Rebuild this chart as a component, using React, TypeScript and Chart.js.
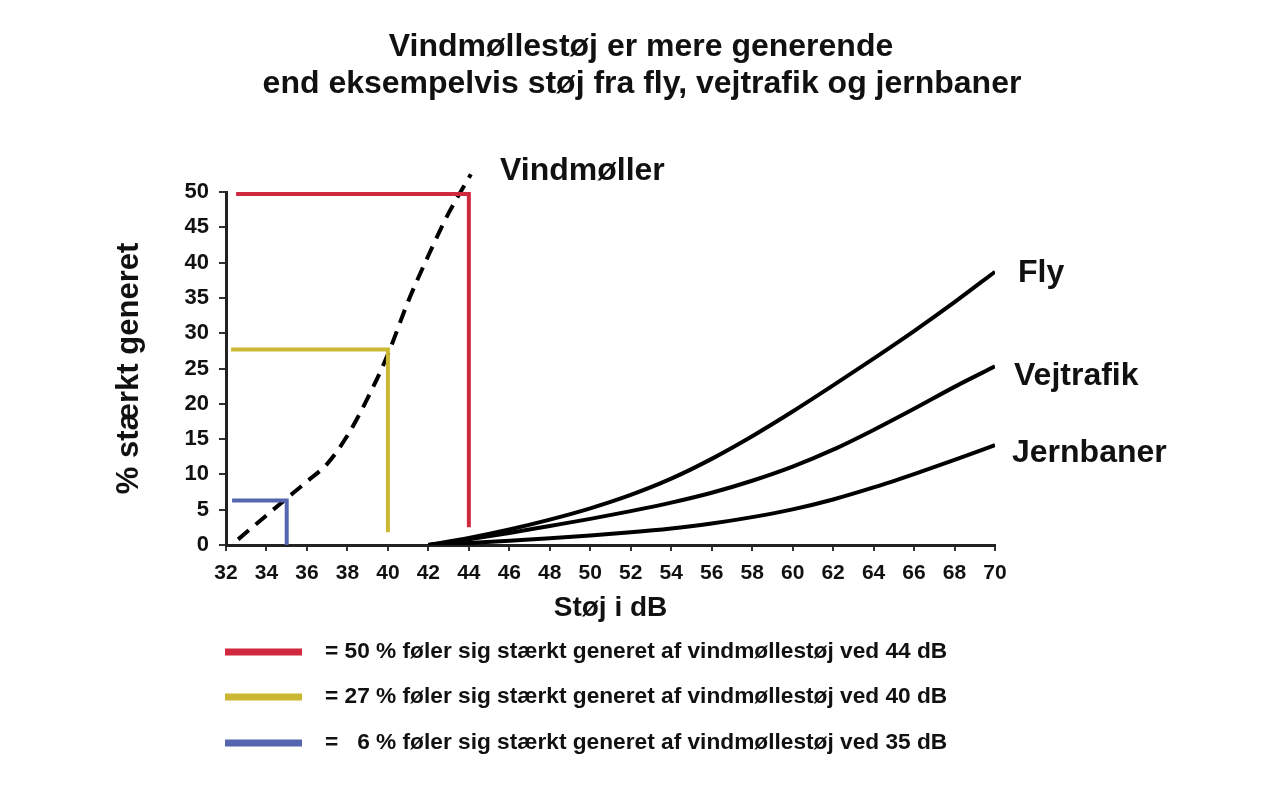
import React, { useEffect, useRef } from "react";
import { Chart, registerables } from "chart.js";

Chart.register(...registerables);

const FONT = "'Liberation Sans', Arial, sans-serif";

const titleLines = [
  "Vindmøllestøj er mere generende",
  "end eksempelvis støj fra fly, vejtrafik og jernbaner",
];
const yTitle = "% stærkt generet";
const xTitle = "Støj i dB";

// Vindmøller (dashed)
const windX = [32.6, 34, 35, 36, 37, 38, 39, 40, 41, 42, 43, 44.1];
const windY = [0.8, 4.2, 6.6, 9, 11.5, 15.5, 20.8, 27, 34.5, 41, 47, 52.5];

const otherX = [42, 44, 46, 48, 50, 52, 54, 56, 58, 60, 62, 64, 66, 68, 70];
const flyY = [0, 1.0, 2.2, 3.6, 5.2, 7.1, 9.4, 12.2, 15.4, 18.9, 22.6, 26.4, 30.3, 34.4, 38.7];
const vejY = [0, 0.8, 1.7, 2.7, 3.7, 4.8, 6.0, 7.4, 9.1, 11.1, 13.5, 16.3, 19.3, 22.4, 25.3];
const jernY = [0, 0.3, 0.6, 0.95, 1.35, 1.8, 2.35, 3.05, 3.95, 5.05, 6.45, 8.15, 10.05, 12.05, 14.15];

// Reference markers (x,y path)
const redX = [32.5, 44, 44];
const redY = [49.7, 49.7, 2.5];
const yellowX = [32.25, 40, 40];
const yellowY = [27.7, 27.7, 1.8];
const blueX = [32.3, 35, 35];
const blueY = [6.3, 6.3, 0];

const seriesLabels = ["Vindmøller", "Fly", "Vejtrafik", "Jernbaner"];
const legendTexts = [
  "= 50 % føler sig stærkt generet af vindmøllestøj ved 44 dB",
  "= 27 % føler sig stærkt generet af vindmøllestøj ved 40 dB",
  "=   6 % føler sig stærkt generet af vindmøllestøj ved 35 dB",
];

const RED = "#d0283c";
const YELLOW = "#cbb832";
const BLUE = "#5565b0";

const pts = (xs: number[], ys: number[]) => xs.map((x, i) => ({ x, y: ys[i] }));

const textPlugin = {
  id: "texts",
  afterDraw(chart: any) {
    const ctx = chart.ctx;
    ctx.save();
    ctx.fillStyle = "#111";
    ctx.textBaseline = "middle";
    ctx.textAlign = "center";
    ctx.font = `bold 32px ${FONT}`;
    ctx.fillText(titleLines[0], 641, 47);
    ctx.fillText(titleLines[1], 642, 84);

    ctx.textAlign = "left";
    ctx.font = `bold 32px ${FONT}`;
    ctx.fillText(seriesLabels[0], 500, 171);
    ctx.fillText(seriesLabels[1], 1018, 273);
    ctx.fillText(seriesLabels[2], 1014, 376);
    ctx.fillText(seriesLabels[3], 1012, 453);

    // legend
    const cols = [RED, YELLOW, BLUE];
    const ys = [652, 697, 743];
    ctx.font = `bold 22.7px ${FONT}`;
    ys.forEach((y, i) => {
      ctx.strokeStyle = cols[i];
      ctx.lineWidth = 7;
      ctx.lineCap = "butt";
      ctx.beginPath();
      ctx.moveTo(225, y);
      ctx.lineTo(302, y);
      ctx.stroke();
      ctx.fillStyle = "#111";
      ctx.fillText(legendTexts[i], 325, y);
    });
    ctx.restore();
  },
};

export default function App() {
  const ref = useRef<HTMLCanvasElement>(null);
  useEffect(() => {
    if (!ref.current) return;
    const black = "#000";
    const chart = new Chart(ref.current, {
      type: "line",
      data: {
        datasets: [
          {
            label: "red",
            data: pts(redX, redY),
            borderColor: RED,
            borderWidth: 4,
            pointRadius: 0,
            tension: 0,
          },
          {
            label: "yellow",
            data: pts(yellowX, yellowY),
            borderColor: YELLOW,
            borderWidth: 4,
            pointRadius: 0,
            tension: 0,
          },
          {
            label: "blue",
            data: pts(blueX, blueY),
            borderColor: BLUE,
            borderWidth: 4,
            pointRadius: 0,
            tension: 0,
          },
          {
            label: seriesLabels[0],
            data: pts(windX, windY),
            borderColor: black,
            borderWidth: 4,
            borderDash: [14, 9],
            pointRadius: 0,
            cubicInterpolationMode: "monotone",
            clip: false as any,
          },
          {
            label: seriesLabels[1],
            data: pts(otherX, flyY),
            borderColor: black,
            borderWidth: 4,
            pointRadius: 0,
            cubicInterpolationMode: "monotone",
          },
          {
            label: seriesLabels[2],
            data: pts(otherX, vejY),
            borderColor: black,
            borderWidth: 4,
            pointRadius: 0,
            cubicInterpolationMode: "monotone",
          },
          {
            label: seriesLabels[3],
            data: pts(otherX, jernY),
            borderColor: black,
            borderWidth: 4,
            pointRadius: 0,
            cubicInterpolationMode: "monotone",
          },
        ],
      },
      options: {
        animation: false,
        responsive: false,
        maintainAspectRatio: false,
        layout: { padding: { left: 111, top: 192, right: 285, bottom: 173 } },
        plugins: { legend: { display: false }, tooltip: { enabled: false }, title: { display: false } },
        scales: {
          x: {
            type: "linear",
            min: 32,
            max: 70,
            ticks: {
              stepSize: 2,
              color: "#111",
              font: { family: FONT, size: 21, weight: "bold" },
              padding: 10,
              maxRotation: 0,
              autoSkip: false,
            },
            grid: { drawOnChartArea: false, drawTicks: true, tickLength: 6, color: "#333", lineWidth: 2 },
            border: { display: true, color: "#222", width: 3 },
            title: {
              display: true,
              text: xTitle,
              color: "#111",
              font: { family: FONT, size: 28, weight: "bold" },
              padding: { top: 0, bottom: 0 },
            },
            afterFit: (s: any) => {
              s.height = 80;
            },
          },
          y: {
            type: "linear",
            min: 0,
            max: 50,
            ticks: {
              stepSize: 5,
              color: "#111",
              font: { family: FONT, size: 22, weight: "bold" },
              padding: 10,
            },
            grid: { drawOnChartArea: false, drawTicks: true, tickLength: 7, color: "#333", lineWidth: 2 },
            border: { display: true, color: "#222", width: 3 },
            title: {
              display: true,
              text: yTitle,
              color: "#111",
              font: { family: FONT, size: 31, weight: "bold" },
              padding: 0,
            },
            afterFit: (s: any) => {
              s.width = 115;
            },
          },
        },
      },
      plugins: [textPlugin],
    });
    return () => chart.destroy();
  }, []);
  return (
    <div style={{ position: "fixed", left: 0, top: 0, width: 1280, height: 798, background: "#fff" }}>
      <canvas ref={ref} width={1280} height={798} style={{ display: "block" }} />
    </div>
  );
}
